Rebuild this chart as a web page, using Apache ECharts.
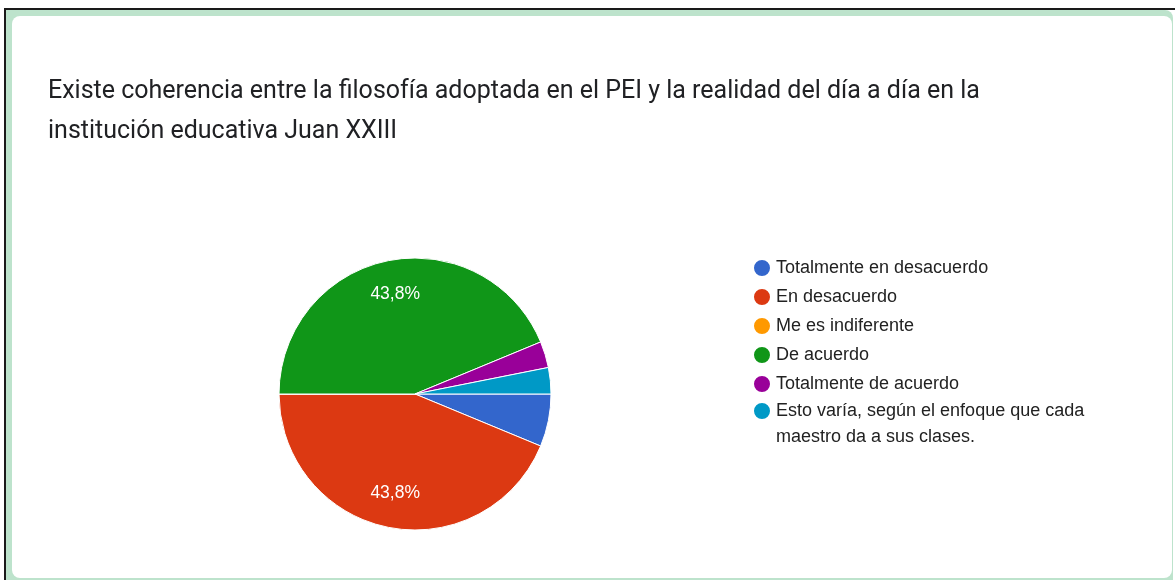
<!DOCTYPE html>
<html>
<head>
<meta charset="utf-8">
<script src="https://cdn.jsdelivr.net/npm/echarts@6/dist/echarts.min.js"></script>
<style>
  html, body { margin: 0; padding: 0; background: #ffffff; }
  #page { position: relative; width: 1175px; height: 580px; overflow: hidden; background: #ffffff; }
  #rule { position: absolute; left: 4px; top: 8px; right: 0; bottom: 0;
          border-top: 2px solid #1a1a1a; border-left: 2px solid #1a1a1a; }
  #band { position: absolute; left: 6px; top: 10px; width: 1167px; height: 580px;
          background: #bde3cc; border-top-right-radius: 8px; }
  #card { position: absolute; left: 12px; top: 16px; width: 1160px; height: 562px;
          background: #ffffff; border-radius: 8px; }
  #chart { position: absolute; left: 0; top: 0; width: 1175px; height: 580px; }
</style>
</head>
<body>
<div id="page">
  <div id="rule"></div>
  <div id="band"></div>
  <div id="card"></div>
  <div id="chart"></div>
</div>
<script>
// Survey responses (count of answers per option)
const categories = [
  'Totalmente en desacuerdo',
  'En desacuerdo',
  'Me es indiferente',
  'De acuerdo',
  'Totalmente de acuerdo',
  'Esto varía, según el enfoque que cada maestro da a sus clases.'
];
const counts = [2, 14, 0, 14, 1, 1];
const colors = ['#3366cc', '#dc3912', '#ff9900', '#109618', '#990099', '#0099c6'];
const titleLines = [
  'Existe coherencia entre la filosofía adoptada en el PEI y la realidad del día a día en la',
  'institución educativa Juan XXIII'
];

const total = counts.reduce((a, b) => a + b, 0);
const pieData = categories.map((name, i) => ({ name, value: counts[i], itemStyle: { color: colors[i] } }));
const fmtPct = v => (v / total * 100).toFixed(1).replace('.', ',') + '%';

const legendFont = {
  fontFamily: 'Liberation Sans, Arial, sans-serif',
  fontSize: 18,
  color: '#222222'
};
const legendBase = {
  orient: 'vertical',
  left: 752,
  padding: 0,
  icon: 'circle',
  itemWidth: 18,
  itemHeight: 18,
  itemTextGap: 12,
  selectedMode: false
};
const shortNames = categories.slice(0, -1);
const longName = categories[categories.length - 1];

const chart = echarts.init(document.getElementById('chart'), null, { renderer: 'canvas' });
chart.setOption({
  backgroundColor: 'transparent',
  animation: false,
  title: {
    text: titleLines.join('\n'),
    left: 48,
    top: 72,
    padding: 0,
    textStyle: {
      fontFamily: 'Roboto',
      fontSize: 25,
      fontWeight: 'normal',
      color: '#202124',
      lineHeight: 40
    }
  },
  legend: [
    Object.assign({}, legendBase, {
      top: 258,
      itemGap: 9,
      textStyle: Object.assign({ lineHeight: 20 }, legendFont),
      data: shortNames
    }),
    // the long option wraps onto two lines; a leading blank line keeps the
    // marker level with the first line of text
    Object.assign({}, legendBase, {
      top: 372,
      textStyle: Object.assign({ lineHeight: 26 }, legendFont),
      formatter: name => '\n' + name.replace('cada maestro', 'cada\nmaestro'),
      data: [longName]
    })
  ],
  series: [
    {
      type: 'pie',
      center: [415, 394],
      radius: [0, 136],
      startAngle: 0,
      clockwise: true,
      avoidLabelOverlap: false,
      label: { show: false },
      labelLine: { show: false },
      emphasis: { disabled: true },
      itemStyle: { borderColor: '#ffffff', borderWidth: 1 },
      data: pieData
    },
    {
      // transparent ring used only to place the percentage labels
      type: 'pie',
      center: [415, 394],
      radius: [61, 136],
      startAngle: 0,
      clockwise: true,
      silent: true,
      avoidLabelOverlap: false,
      emphasis: { disabled: true },
      itemStyle: { color: 'rgba(0,0,0,0)' },
      labelLine: { show: false },
      label: {
        show: true,
        position: 'inside',
        fontFamily: 'Liberation Sans, Arial, sans-serif',
        fontSize: 17.5,
        color: '#ffffff',
        formatter: p => (p.value / total >= 0.1 ? fmtPct(p.value) : '')
      },
      data: pieData.map(d => ({ name: d.name, value: d.value }))
    }
  ]
});
</script>
</body>
</html>
